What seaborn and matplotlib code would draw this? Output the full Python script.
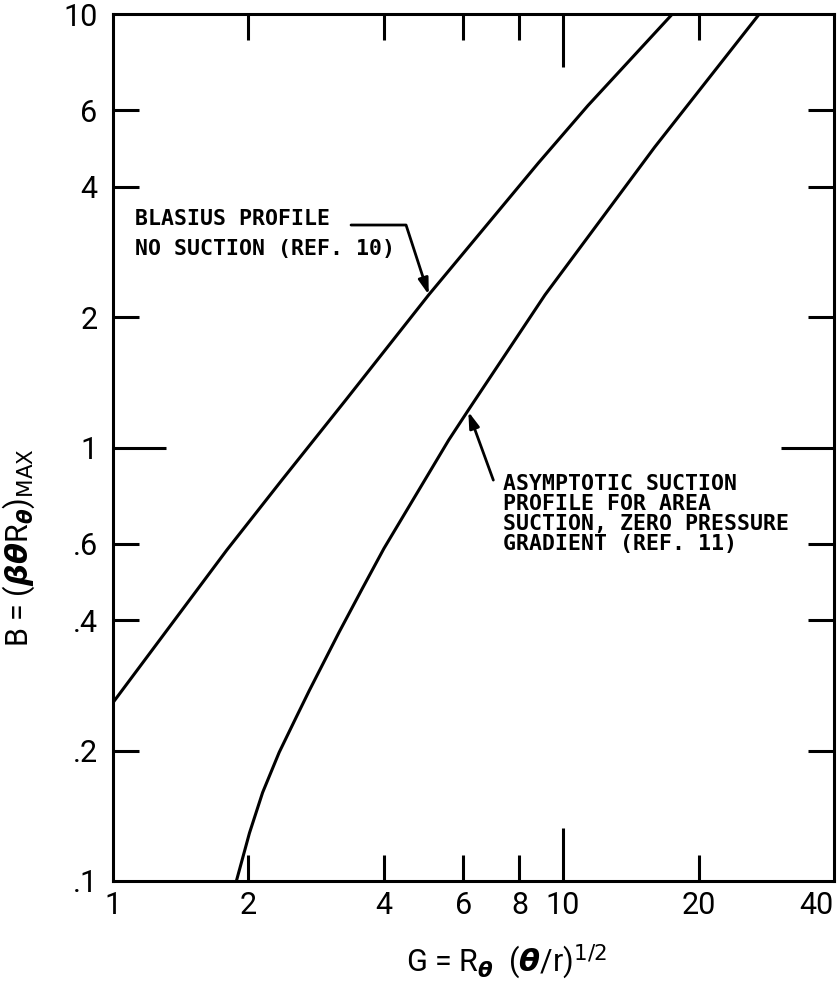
import numpy as np
import pandas as pd
import matplotlib
matplotlib.use("Agg")
import matplotlib.pyplot as plt
import seaborn as sns

# ---- data ----
blasius_G = [1.0, 1.79, 2.37, 3.29, 5.03, 8.81, 11.36, 17.5]
blasius_B = [0.258, 0.58, 0.84, 1.287, 2.25, 4.53, 6.15, 10.0]

asym_G = [1.88, 2.01, 2.15, 2.34, 2.55, 2.73, 3.18, 3.57, 4.0, 5.57, 6.16, 9.12, 15.98, 27.3]
asym_B = [0.10, 0.129, 0.160, 0.198, 0.238, 0.275, 0.375, 0.470, 0.585, 1.04, 1.22, 2.25, 4.93, 10.0]

x_ticks = [1, 2, 4, 6, 8, 10, 20, 40]
x_ticklabels = ["1", "2", "4", "6", "8", "10", "20", "40"]
y_ticks = [0.1, 0.2, 0.4, 0.6, 1, 2, 4, 6, 10]
y_ticklabels = [".1", ".2", ".4", ".6", "1", "2", "4", "6", "10"]

blasius_text = "BLASIUS PROFILE\nNO SUCTION (REF. 10)"
asym_text = "ASYMPTOTIC SUCTION\nPROFILE FOR AREA\nSUCTION, ZERO PRESSURE\nGRADIENT (REF. 11)"

df = pd.concat([
    pd.DataFrame({"G": blasius_G, "B": blasius_B, "curve": "blasius"}),
    pd.DataFrame({"G": asym_G, "B": asym_B, "curve": "asym"}),
])

sns.set_theme(style="white")
plt.rcParams["font.family"] = ["Roboto", "DejaVu Sans"]

fig = plt.figure(figsize=(8.4, 9.83), dpi=100)
ax = fig.add_axes([113 / 840, 102 / 983, (834 - 113) / 840, (881 - 14) / 983])

sns.lineplot(data=df, x="G", y="B", units="curve", estimator=None, sort=False,
             color="black", linewidth=2.2, ax=ax, legend=False)

ax.set_xscale("log")
ax.set_yscale("log")
ax.set_xlim(1, 40)
ax.set_ylim(0.1, 10)

ax.set_xticks(x_ticks)
ax.set_xticklabels(x_ticklabels)
ax.set_yticks(y_ticks)
ax.set_yticklabels(y_ticklabels)
ax.xaxis.set_minor_locator(matplotlib.ticker.NullLocator())
ax.yaxis.set_minor_locator(matplotlib.ticker.NullLocator())

ax.tick_params(axis="both", which="major", direction="in", width=2.2,
               color="black", labelsize=22, top=True, right=True,
               bottom=True, left=True, labelcolor="black")
ax.tick_params(axis="x", pad=7)
ax.tick_params(axis="y", pad=11)

for spine in ax.spines.values():
    spine.set_visible(True)
    spine.set_color("black")
    spine.set_linewidth(2.2)

def set_lengths(ticks, values, lo, hi):
    for t, v in zip(ticks, values):
        if v == lo or v == hi:
            L = 0
        elif v in (1, 10):
            L = 38
        else:
            L = 19
        t.tick1line.set_markersize(L)
        t.tick2line.set_markersize(L)

set_lengths(ax.xaxis.get_major_ticks(), x_ticks, 1, 40)
set_lengths(ax.yaxis.get_major_ticks(), y_ticks, 0.1, 10)

xlabels = ax.get_xticklabels()
xlabels[-1].set_horizontalalignment("right")

ax.set_xlabel(r"G = R$_{\boldsymbol{\theta}}$  ($\boldsymbol{\theta}$/r)$^{1/2}$",
              fontsize=22, color="black")
ax.xaxis.set_label_coords(0.546, -0.07)
ax.set_ylabel(r"B = ($\boldsymbol{\beta\theta}$R$_{\boldsymbol{\theta}}$)$_{\mathrm{MAX}}$",
              fontsize=22, color="black")
ax.yaxis.set_label_coords(-0.105, 0.385)

mono = ["DejaVu Sans Mono"]
ax.text(1.118, 3.55, blasius_text, fontsize=15.5, family=mono, va="top", ha="left",
        linespacing=1.6, color="black", fontweight="bold")
ax.annotate("", xy=(5.03, 2.25), xytext=(3.38, 3.26),
            arrowprops=dict(arrowstyle="-|>,head_length=0.8,head_width=0.25",
                            connectionstyle="angle,angleA=0,angleB=108,rad=0",
                            color="black", lw=2.0, shrinkA=0, shrinkB=0))

ax.text(7.37, 0.87, asym_text, fontsize=15.5, family=mono, va="top", ha="left",
        linespacing=1.0, color="black", fontweight="bold")
ax.annotate("", xy=(6.16, 1.21), xytext=(7.0, 0.841),
            arrowprops=dict(arrowstyle="-|>,head_length=0.8,head_width=0.25",
                            color="black", lw=2.0, shrinkA=0, shrinkB=0))

fig.savefig("out.png", dpi=100, facecolor="white")
